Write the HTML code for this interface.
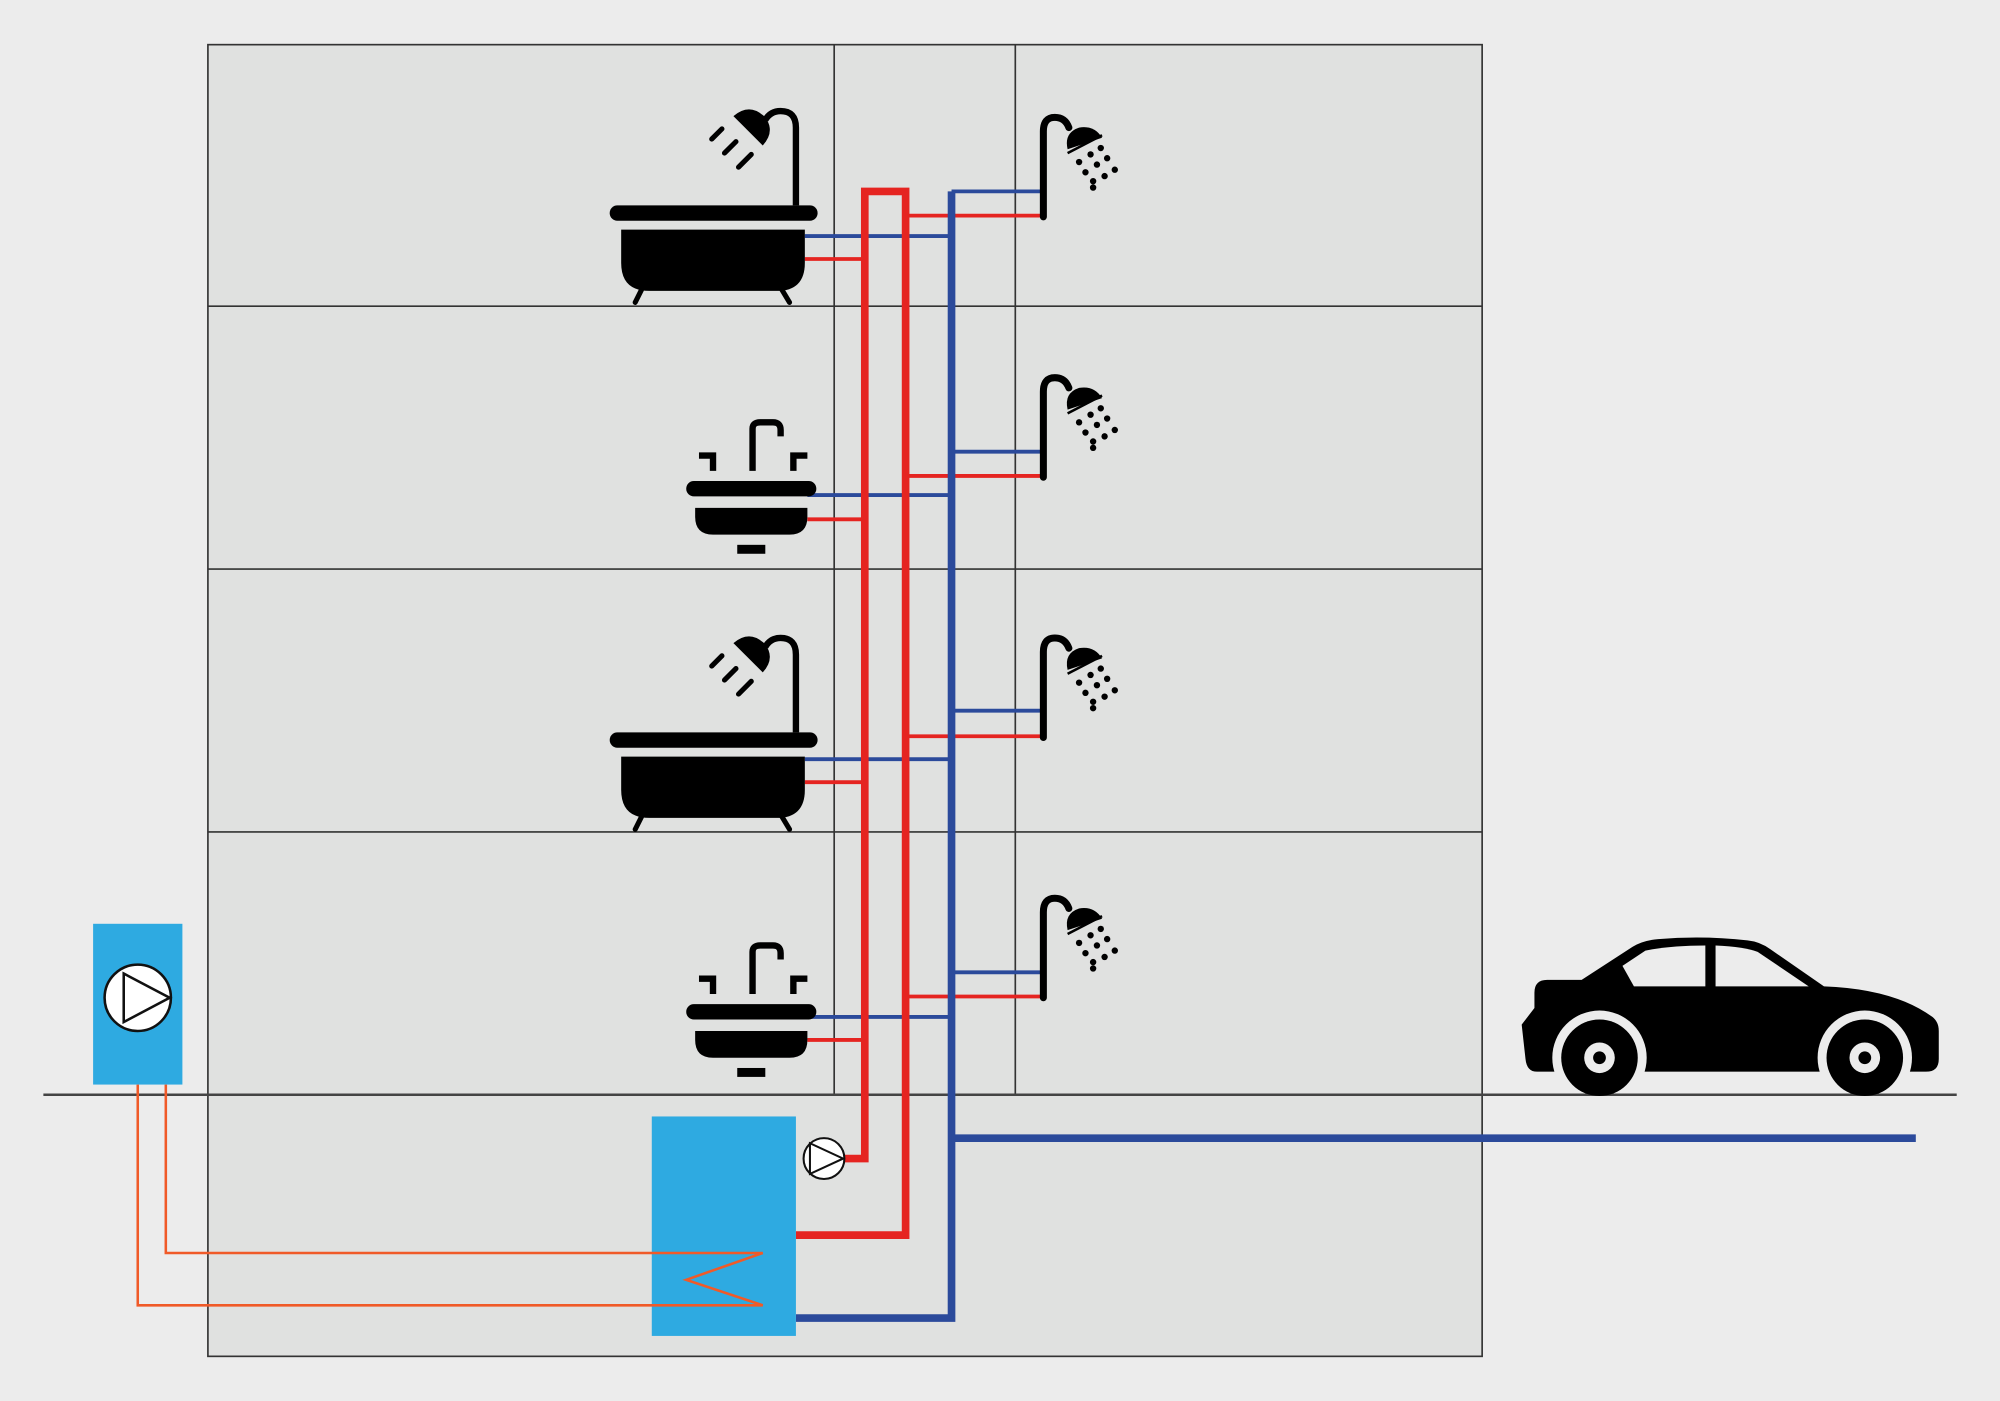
<!DOCTYPE html>
<html><head><meta charset="utf-8"><style>html,body{margin:0;padding:0;background:#ececec}svg{display:block}</style></head>
<body>
<svg width="2000" height="1401" viewBox="0 0 1568 1098" preserveAspectRatio="none" xmlns="http://www.w3.org/2000/svg">
<defs>
<g id="bath">
  <rect x="478" y="161" width="163" height="12" rx="6" fill="#000"/>
  <path d="M487,180 H631 V206 Q631,228 609,228 H509 Q487,228 487,206 Z" fill="#000"/>
  <line x1="503" y1="227" x2="498" y2="237" stroke="#000" stroke-width="4" stroke-linecap="round"/>
  <line x1="613" y1="227" x2="619" y2="237" stroke="#000" stroke-width="4" stroke-linecap="round"/>
  <path d="M624,161 V100 Q624,87 612,87 Q604,87 600,94" stroke="#000" stroke-width="5" fill="none"/>
  <path d="M575,91 Q588,80 600,92 Q608,103 598,114 Z" fill="#000"/>
  <g stroke="#000" stroke-width="4" stroke-linecap="round">
    <line x1="558" y1="109" x2="566" y2="101"/>
    <line x1="568" y1="120" x2="577" y2="111"/>
    <line x1="579" y1="131" x2="589" y2="121"/>
  </g>
</g>
<g id="sink">
  <rect x="538" y="377" width="102" height="12" rx="6" fill="#000"/>
  <path d="M545,398 H633 V405 Q633,419 619,419 H559 Q545,419 545,405 Z" fill="#000"/>
  <rect x="578" y="427" width="22" height="7" fill="#000"/>
  <path d="M590,369 V336 Q590,331 596,331 H606 Q612,331 612,337 V342" stroke="#000" stroke-width="5" fill="none"/>
  <path d="M548,357 H559 V369" stroke="#000" stroke-width="5" fill="none"/>
  <path d="M633,357 H622 V369" stroke="#000" stroke-width="5" fill="none"/>
</g>
<g id="shower">
  <path d="M818,170 V103 Q818,92 827,92 Q835,92 838,100" stroke="#000" stroke-width="5.5" fill="none" stroke-linecap="round"/>
  <path d="M837,117 Q834,104 846,100 Q858,98 864,108 Z" fill="#000"/>
  <line x1="837" y1="120" x2="864" y2="106" stroke="#000" stroke-width="2"/>
  <g fill="#000">
    <circle cx="846" cy="127" r="2.5"/><circle cx="855" cy="121" r="2.5"/><circle cx="863" cy="116" r="2.5"/>
    <circle cx="851" cy="135" r="2.5"/><circle cx="860" cy="129" r="2.5"/><circle cx="868" cy="124" r="2.5"/>
    <circle cx="857" cy="142" r="2.5"/><circle cx="866" cy="138" r="2.5"/><circle cx="874" cy="133" r="2.5"/>
    <circle cx="857" cy="147" r="2.5"/>
  </g>
</g>
</defs>
<rect width="1568" height="1098" fill="#ececec"/>
<rect x="163" y="35" width="999" height="1028" fill="#e0e1e0" stroke="#333" stroke-width="1.3"/>
<g stroke="#333" stroke-width="1.3">
  <line x1="654" y1="35" x2="654" y2="858"/>
  <line x1="796" y1="35" x2="796" y2="858"/>
  <line x1="163" y1="240" x2="1162" y2="240"/>
  <line x1="163" y1="446" x2="1162" y2="446"/>
  <line x1="163" y1="652" x2="1162" y2="652"/>
</g>
<line x1="34" y1="858" x2="1534" y2="858" stroke="#444" stroke-width="2"/>

<g stroke-width="3" fill="none">
  <g stroke="#2b4a9b">
    <line x1="746" y1="150" x2="818" y2="150"/>
    <line x1="631" y1="185" x2="746" y2="185"/>
    <line x1="746" y1="354" x2="818" y2="354"/>
    <line x1="633" y1="388" x2="746" y2="388"/>
    <line x1="746" y1="557" x2="818" y2="557"/>
    <line x1="631" y1="595" x2="746" y2="595"/>
    <line x1="746" y1="762" x2="818" y2="762"/>
    <line x1="633" y1="797" x2="746" y2="797"/>
  </g>
  <g stroke="#e52421">
    <line x1="710" y1="169" x2="818" y2="169"/>
    <line x1="631" y1="203" x2="678" y2="203"/>
    <line x1="710" y1="373" x2="818" y2="373"/>
    <line x1="633" y1="407" x2="678" y2="407"/>
    <line x1="710" y1="577" x2="818" y2="577"/>
    <line x1="631" y1="613" x2="678" y2="613"/>
    <line x1="710" y1="781" x2="818" y2="781"/>
    <line x1="633" y1="815" x2="678" y2="815"/>
  </g>
</g>
<path d="M630,908 H678 V150 H710 V968 H624" stroke="#e52421" stroke-width="6" fill="none"/>
<path d="M624,1033 H746 V150" stroke="#2b4a9b" stroke-width="6" fill="none"/>
<line x1="746" y1="892" x2="1502" y2="892" stroke="#2b4a9b" stroke-width="6"/>

<use href="#bath"/>
<use href="#bath" transform="translate(0,413)"/>
<use href="#sink"/>
<use href="#sink" transform="translate(0,410)"/>
<use href="#shower"/>
<use href="#shower" transform="translate(0,204)"/>
<use href="#shower" transform="translate(0,408)"/>
<use href="#shower" transform="translate(0,612)"/>

<rect x="511" y="875" width="113" height="172" fill="#2eaae1"/>
<circle cx="646" cy="908" r="16" fill="#fff" stroke="#111" stroke-width="1.6"/>
<path d="M635,896 L661,908 L635,920 Z" fill="none" stroke="#111" stroke-width="1.6"/>

<rect x="73" y="724" width="70" height="126" fill="#2eaae1"/>
<circle cx="108" cy="782" r="26" fill="#fff" stroke="#111" stroke-width="2"/>
<path d="M97,763 L133,782 L97,801 Z" fill="none" stroke="#111" stroke-width="2"/>
<path d="M108,850 V1023 H598 L538,1003 L598,982 H130 V850" stroke="#f05a28" stroke-width="2" fill="none"/>

<path d="M1205,840 Q1197,840 1196,830 L1193,803 L1203,790 V778 Q1203,768 1213,768 H1240 L1280,742 Q1288,737 1300,736 Q1335,733 1370,737 Q1380,738 1388,744 L1430,773 Q1485,775 1515,797 Q1520,801 1520,808 V830 Q1520,840 1510,840 Z" fill="#000"/>
<path d="M1272,757 L1290,745 Q1310,741 1337,741 V773 H1281 Z" fill="#ececec"/>
<path d="M1345,741 Q1368,742 1378,746 L1418,773 H1345 Z" fill="#ececec"/>
<circle cx="1254" cy="829" r="37" fill="#ececec"/>
<circle cx="1462" cy="829" r="37" fill="#ececec"/>
<rect x="1200" y="840" width="320" height="20" fill="#ececec"/>
<line x1="1160" y1="858" x2="1534" y2="858" stroke="#444" stroke-width="2"/>
<circle cx="1254" cy="829" r="30" fill="#000"/>
<circle cx="1462" cy="829" r="30" fill="#000"/>
<circle cx="1254" cy="829" r="12" fill="#ececec"/>
<circle cx="1462" cy="829" r="12" fill="#ececec"/>
<circle cx="1254" cy="829" r="5" fill="#000"/>
<circle cx="1462" cy="829" r="5" fill="#000"/>
</svg>
</body></html>
